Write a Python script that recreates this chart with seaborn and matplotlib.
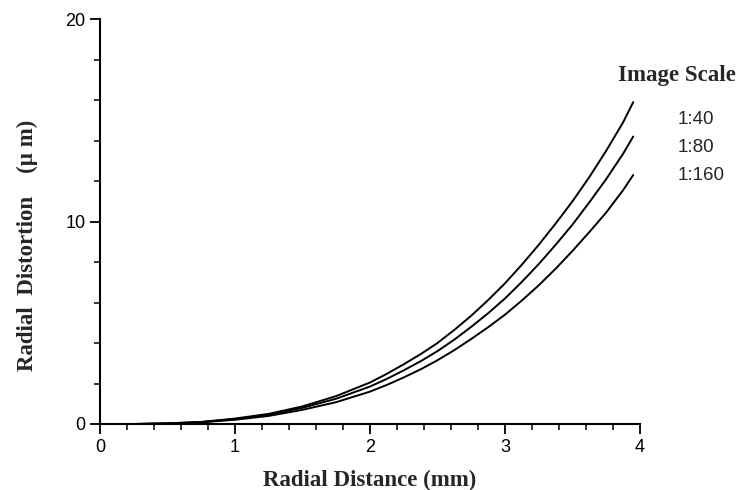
import pandas as pd
import matplotlib
matplotlib.use("Agg")
import matplotlib.pyplot as plt
import seaborn as sns
from matplotlib.ticker import MultipleLocator

# values
radial_mm = [0, 0.25, 0.5, 0.75, 1.0, 1.25, 1.5, 1.75, 2.0, 2.125, 2.25,
             2.375, 2.5, 2.625, 2.75, 2.875, 3.0, 3.125, 3.25, 3.375, 3.5,
             3.625, 3.75, 3.875, 3.95]
dist_1_40 = [0, 0.0, 0.03, 0.10, 0.27, 0.50, 0.87, 1.38, 2.05, 2.48, 2.95,
             3.45, 4.0, 4.65, 5.35, 6.12, 6.95, 7.87, 8.85, 9.9, 11.0,
             12.2, 13.5, 14.9, 15.9]
dist_1_80 = [0, 0.0, 0.03, 0.10, 0.24, 0.46, 0.80, 1.25, 1.85, 2.23, 2.65,
             3.1, 3.6, 4.17, 4.8, 5.47, 6.2, 7.02, 7.9, 8.85, 9.85,
             10.95, 12.1, 13.35, 14.2]
dist_1_160 = [0, 0.0, 0.02, 0.08, 0.21, 0.40, 0.70, 1.08, 1.60, 1.93, 2.30,
              2.7, 3.15, 3.65, 4.2, 4.78, 5.4, 6.1, 6.85, 7.67, 8.55,
              9.48, 10.45, 11.55, 12.3]
scale_labels = ["1:40", "1:80", "1:160"]

rows = []
for lab, vals in zip(scale_labels, [dist_1_40, dist_1_80, dist_1_160]):
    for r, d in zip(radial_mm, vals):
        rows.append({"r": r, "d": d, "scale": lab})
df = pd.DataFrame(rows)

sns.set_style("ticks")
plt.rcParams['font.family'] = ['Liberation Sans', 'DejaVu Sans']

fig = plt.figure(figsize=(7.42, 4.9), dpi=100)
ax = fig.add_axes([0.1348, 0.1347, 0.7277, 0.8263])

sns.lineplot(data=df, x="r", y="d", hue="scale", hue_order=scale_labels,
             palette=["black"] * 3, linewidth=1.4, legend=False, ax=ax)

ax.set_xlim(0, 4)
ax.set_ylim(0, 20)
ax.xaxis.set_major_locator(MultipleLocator(1))
ax.xaxis.set_minor_locator(MultipleLocator(0.2))
ax.yaxis.set_major_locator(MultipleLocator(10))
ax.yaxis.set_minor_locator(MultipleLocator(2))
ax.tick_params(which="major", length=7, width=1.3, colors="black",
               labelsize=13, direction="out")
ax.tick_params(which="minor", length=4, width=1.1, colors="black",
               direction="out")
ax.tick_params(axis="x", pad=4)

sns.despine(ax=ax)
for s in ["left", "bottom"]:
    ax.spines[s].set_linewidth(1.5)
    ax.spines[s].set_color("black")

serif = ['Liberation Serif', 'DejaVu Serif']
ax.set_xlabel("Radial Distance (mm)", family=serif, fontweight="bold",
              fontsize=16.5, labelpad=10)
ax.set_ylabel("Radial  Distortion    (\u00b5 m)", family=serif,
              fontweight="bold", fontsize=16.5)
# label sits a bit below the middle of the axis in the original
ax.yaxis.set_label_coords(-0.115, 0.44)

# right-hand key
fig.text(618 / 742, 1 - 75 / 490, "Image Scale", family=serif,
         fontweight="bold", fontsize=16.5, ha="left", va="center")
for lab, ypx in zip(scale_labels, [119, 147, 175]):
    fig.text(678 / 742, 1 - ypx / 490, lab, fontsize=13.5,
             ha="left", va="center")

fig.savefig("out.png", dpi=100)
